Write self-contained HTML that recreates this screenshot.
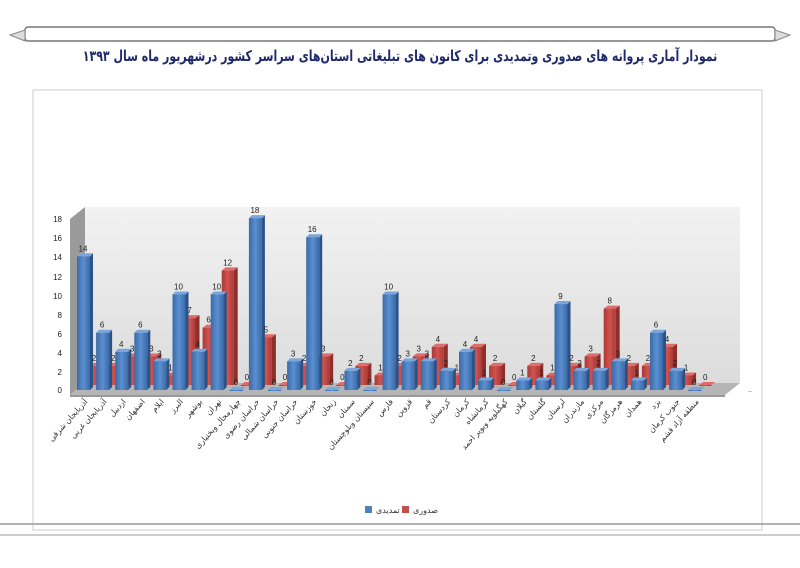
<!DOCTYPE html>
<html><head><meta charset="utf-8"><style>
body{margin:0;background:#fff;width:800px;height:568px;overflow:hidden;position:relative}
svg{display:block;font-family:"Liberation Sans","DejaVu Sans",sans-serif}
#t{position:absolute;left:0;top:50px;width:800px;text-align:center;font:bold 11px "DejaVu Sans","Liberation Sans",sans-serif;color:#1f2a6b;direction:rtl;white-space:nowrap;transform:scaleY(1.35)}
</style></head><body>
<svg id="s" width="800" height="568" viewBox="0 0 800 568" xmlns="http://www.w3.org/2000/svg">
<defs>
<linearGradient id="gb" x1="0" x2="1"><stop offset="0" stop-color="#3a6aa8"/><stop offset=".5" stop-color="#5b8fd0"/><stop offset="1" stop-color="#3a6aa8"/></linearGradient>
<linearGradient id="gr" x1="0" x2="1"><stop offset="0" stop-color="#a83a37"/><stop offset=".5" stop-color="#d2524e"/><stop offset="1" stop-color="#a83a37"/></linearGradient>
<linearGradient id="wall" x1="0" y1="0" x2="0" y2="1"><stop offset="0" stop-color="#f2f2f2"/><stop offset="1" stop-color="#dcdcdc"/></linearGradient>
</defs>
<rect x="25" y="27" width="750" height="14" rx="3" fill="#fff" stroke="#777" stroke-width="1.5"/>
<path d="M25 30 L10 35 L25 41 Z M775 30 L790 35 L775 41 Z" fill="#ddd" stroke="#888"/>
<rect x="33" y="90" width="729" height="440" fill="#fff" stroke="#ccc"/>
<line x1="0" y1="524" x2="800" y2="524" stroke="#999" stroke-width="1.5"/>
<line x1="0" y1="535" x2="800" y2="535" stroke="#999" stroke-width="1"/>
<rect x="85" y="207" width="655" height="176" fill="url(#wall)"/>
<path d="M70 219 L85 207 L85 383 L70 395 Z" fill="#9a9a9a"/>
<path d="M70 395 L85 383 L740 383 L725 395 Z" fill="#b5b5b5"/>
<path d="M70 395 L725 395 L725 397 L70 397 Z" fill="#999"/>
<g id="g"></g>
<g font-size="8" fill="#222">
<text x="62" y="393" text-anchor="end">0</text>
<text x="62" y="375" text-anchor="end">2</text>
<text x="62" y="356" text-anchor="end">4</text>
<text x="62" y="337" text-anchor="end">6</text>
<text x="62" y="318" text-anchor="end">8</text>
<text x="62" y="299" text-anchor="end">10</text>
<text x="62" y="280" text-anchor="end">12</text>
<text x="62" y="260" text-anchor="end">14</text>
<text x="62" y="241" text-anchor="end">16</text>
<text x="62" y="222" text-anchor="end">18</text>
<text x="748" y="392" font-size="7">..</text>
</g>
<rect x="365" y="506" width="7" height="7" fill="#4f81bd"/>
<text x="376" y="513" font-size="8" fill="#333">تمدیدی</text>
<rect x="402" y="506" width="7" height="7" fill="#c0504d"/>
<text x="413" y="513" font-size="8" fill="#333">صدوری</text>
</svg>
<div id="t">نمودار  آماری پروانه های صدوری وتمدیدی برای کانون های تبلیغاتی استان‌های سراسر کشور درشهریور ماه سال ۱۳۹۳</div>
<script>
var d=[["آذربایجان شرقی",14,2],["آذربایجان غربی",6,2],["اردبیل",4,3],["اصفهان",6,3],["ایلام",3,1],["البرز",10,7],["بوشهر",4,6],["تهران",10,12],["چهارمحال وبختیاری",0,0],["خراسان رضوی",18,5],["خراسان شمالی",0,0],["خراسان جنوبی",3,2],["خوزستان",16,3],["زنجان",0,0],["سمنان",2,2],["سیستان وبلوچستان",0,1],["فارس",10,2],["قزوین",3,3],["قم",3,4],["کردستان",2,1],["کرمان",4,4],["کرمانشاه",1,2],["کهگیلویه وبویر احمد",0,0],["گیلان",1,2],["گلستان",1,1],["لرستان",9,2],["مازندران",2,3],["مرکزی",2,8],["هرمزگان",3,2],["همدان",1,2],["یزد",6,4],["جنوب کرمان",2,1],["منطقه آزاد قشم",0,0]];
var g=document.getElementById('g'),h="";
var u=9.55;
d.forEach(function(r,i){
 var c=84+i*19.1;
 var rx=c+4,rb=385,rh=r[2]*u,rt=rb-rh;
 h+='<path d="M'+(rx+12)+' '+rt+' l4 -3 l0 '+rh+' l-4 3z" fill="#8e2f2c"/>';
 h+='<path d="M'+rx+' '+rt+' l4 -3 l12 0 l-4 3z" fill="#e06b67"/>';
 h+='<rect x="'+rx+'" y="'+rt+'" width="12" height="'+Math.max(rh,1)+'" fill="url(#gr)"/>';
 var bx=c-7,bb=390,bh=r[1]*u,bt=bb-bh;
 h+='<path d="M'+(bx+13)+' '+bt+' l3 -3 l0 '+bh+' l-3 3z" fill="#2c5387"/>';
 h+='<path d="M'+bx+' '+bt+' l3 -3 l13 0 l-3 3z" fill="#7aa6dc"/>';
 h+='<rect x="'+bx+'" y="'+bt+'" width="13" height="'+Math.max(bh,1)+'" fill="url(#gb)"/>';
 h+='<text x="'+(c-1)+'" y="'+(bt-5)+'" font-size="8" text-anchor="middle" fill="#222">'+r[1]+'</text>';
 h+='<text x="'+(c+10)+'" y="'+(rt-5)+'" font-size="8" text-anchor="middle" fill="#222">'+r[2]+'</text>';
 h+='<text transform="translate('+(c+4)+',402) rotate(-48)" font-size="8" text-anchor="end" fill="#333">'+r[0]+'</text>';
});
g.innerHTML=h;
</script>
</body></html>
